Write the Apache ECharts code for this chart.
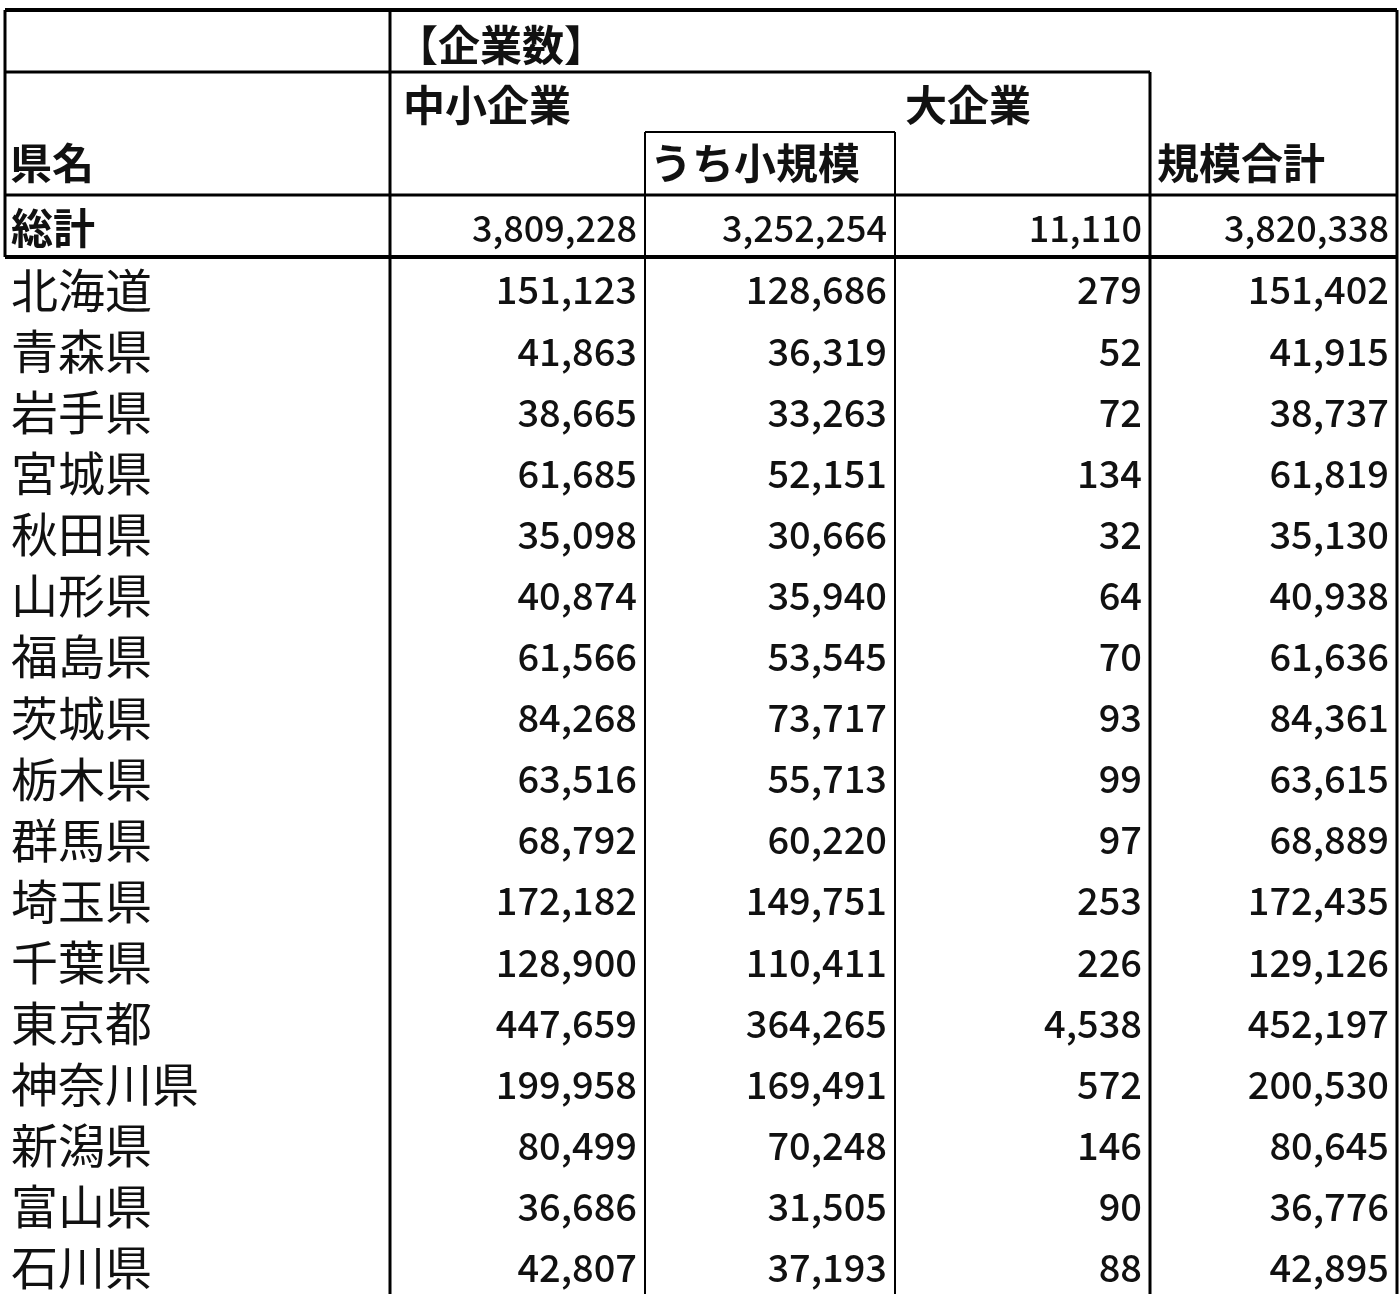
<!DOCTYPE html>
<html><head><meta charset="utf-8">
<script src="https://cdn.jsdelivr.net/npm/echarts@6/dist/echarts.min.js"></script>
<style>html,body{margin:0;padding:0;background:#fff}#c{width:1400px;height:1294px}</style>
</head><body><div id="c"></div>
<script>
const prefectures = ['北海道','青森県','岩手県','宮城県','秋田県','山形県','福島県','茨城県','栃木県','群馬県','埼玉県','千葉県','東京都','神奈川県','新潟県','富山県','石川県'];
const smeCounts = ['151,123','41,863','38,665','61,685','35,098','40,874','61,566','84,268','63,516','68,792','172,182','128,900','447,659','199,958','80,499','36,686','42,807'];
const smallCounts = ['128,686','36,319','33,263','52,151','30,666','35,940','53,545','73,717','55,713','60,220','149,751','110,411','364,265','169,491','70,248','31,505','37,193'];
const largeCounts = ['279','52','72','134','32','64','70','93','99','97','253','226','4,538','572','146','90','88'];
const totalCounts = ['151,402','41,915','38,737','61,819','35,130','40,938','61,636','84,361','63,615','68,889','172,435','129,126','452,197','200,530','80,645','36,776','42,895'];
const grandTotal = ['総計','3,809,228','3,252,254','11,110','3,820,338'];
const headers = ['【企業数】','中小企業','大企業','うち小規模','県名','規模合計'];

const colEdges = [5, 390, 645, 895, 1150, 1397];
const firstRowY = 290, rowStep = 61.1;
const font = '"Noto Sans CJK JP", sans-serif';

const cells = [];
prefectures.forEach((p, i) => {
  cells.push([0, i, p]);
  cells.push([1, i, smeCounts[i]]);
  cells.push([2, i, smallCounts[i]]);
  cells.push([3, i, largeCounts[i]]);
  cells.push([4, i, totalCounts[i]]);
});
const totalCells = grandTotal.map((t, c) => [c, -1, t]);

function render(params, api) {
  const c = api.value(0), r = api.value(1), t = api.value(2);
  const y = r < 0 ? 228 : firstRowY + r * rowStep;
  const pt = api.coord([c === 0 ? colEdges[0] + 6 : colEdges[c + 1] - 8, y]);
  const isName = c === 0;
  return {
    type: 'text',
    style: {
      x: pt[0], y: pt[1], text: String(t),
      align: isName ? 'left' : 'right', verticalAlign: 'middle',
      font: (r < 0 ? (isName ? 'bold 42px ' : '500 36px ') : (isName ? '47px ' : '500 38px ')) + font,
      fill: '#111'
    }
  };
}

const headerItems = [
  [396, 45, headers[0]], [403, 105, headers[1]], [905, 105, headers[2]],
  [650, 163, headers[3]], [10, 163, headers[4]], [1157, 163, headers[5]]
];
const lines = [
  [5, 10, 1397, 10, 4], [5, 72, 1150, 72, 3], [645, 132, 895, 132, 2],
  [5, 195, 1397, 195, 3], [5, 257, 1397, 257, 4],
  [5, 10, 5, 257, 3], [390, 10, 390, 1294, 3], [645, 132, 645, 1294, 2],
  [895, 132, 895, 1294, 2], [1150, 72, 1150, 1294, 3], [1397, 10, 1397, 1294, 3]
];

const chart = echarts.init(document.getElementById('c'));
chart.setOption({
  animation: false,
  grid: { left: 0, top: 0, width: 1400, height: 1294 },
  xAxis: { type: 'value', min: 0, max: 1400, show: false },
  yAxis: { type: 'value', min: 0, max: 1294, inverse: true, show: false },
  series: [
    { type: 'custom', renderItem: render, data: cells.concat(totalCells), silent: true },
    { type: 'custom', silent: true, data: headerItems, renderItem: (p, api) => {
      const pt = api.coord([api.value(0), api.value(1)]);
      return { type: 'text', style: { x: pt[0], y: pt[1], text: String(api.value(2)), verticalAlign: 'middle', font: 'bold 42px ' + font, fill: '#111' } };
    }},
    { type: 'custom', silent: true, data: lines, renderItem: (p, api) => {
      const a = api.coord([api.value(0), api.value(1)]), b = api.coord([api.value(2), api.value(3)]);
      return { type: 'line', shape: { x1: a[0], y1: a[1], x2: b[0], y2: b[1] }, style: { stroke: '#000', lineWidth: api.value(4) } };
    }}
  ]
});
</script></body></html>
